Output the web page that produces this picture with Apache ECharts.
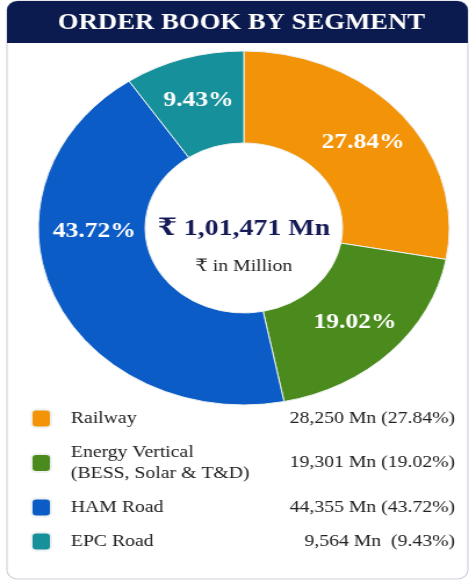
<!DOCTYPE html>
<html>
<head>
<meta charset="utf-8">
<script src="https://cdn.jsdelivr.net/npm/echarts@6/dist/echarts.min.js"></script>
<style>
  html, body { margin: 0; padding: 0; background: #fff; overflow: hidden; }
  /* ảnh gốc bị kéo giãn ngang, nên vẽ hẹp rồi giãn ra */
  #chart { width: 404px; height: 582px; transform: scaleX(1.161); transform-origin: 0 0; }
</style>
</head>
<body>
<div id="chart"></div>
<script>
// Dữ liệu
const categories = ['Railway', 'Energy Vertical\n(BESS, Solar & T&D)', 'HAM Road', 'EPC Road'];
const valuesMn = [28250, 19301, 44355, 9564];
const percents = [27.84, 19.02, 43.72, 9.43];
const totalMn = 101471;
const colors = ['#F39408', '#4B8B1D', '#0B5CC7', '#16909A'];

const serif = "'Liberation Serif', 'DejaVu Serif', serif";
const navy = '#0C1B4F';
const rowH = 21;

// Định dạng số kiểu Ấn Độ (1,01,471)
function fmtIndian(n) {
    const s = String(n);
    if (s.length <= 3) return s;
    const last3 = s.slice(-3);
    const rest = s.slice(0, -3).replace(/\B(?=(\d{2})+(?!\d))/g, ',');
    return rest + ',' + last3;
}

function valueText(i) {
    const pad = percents[i] < 10 ? ' ' : '';
    return fmtIndian(valuesMn[i]) + ' Mn ' + pad + '(' + percents[i].toFixed(2) + '%)';
}

const chart = echarts.init(document.getElementById('chart'));
chart.setOption({
    animation: false,
    color: colors,
    graphic: [
        {
            type: 'rect', z: -10,
            shape: { x: 6, y: 1, width: 397, height: 578, r: 9 },
            style: { fill: '#fff', stroke: '#cdd2dc', lineWidth: 1.2 }
        },
        {
            type: 'rect', z: -5,
            shape: { x: 6, y: 1, width: 397, height: 42, r: [9, 9, 0, 0] },
            style: { fill: navy }
        },
        {
            type: 'text', x: 208, y: 23,
            style: {
                text: 'ORDER BOOK BY SEGMENT', fill: '#fff', font: 'bold 23px ' + serif,
                align: 'center', verticalAlign: 'middle'
            }
        },
        {
            type: 'text', x: 210, y: 229,
            style: {
                text: '₹ ' + fmtIndian(totalMn) + ' Mn', fill: '#161B57', font: 'bold 24px ' + serif,
                align: 'center', verticalAlign: 'middle'
            }
        },
        {
            type: 'text', x: 210, y: 267,
            style: {
                text: '₹ in Million', fill: '#222', font: '17px ' + serif,
                align: 'center', verticalAlign: 'middle'
            }
        }
    ],
    legend: [
        {
            // ô màu + tên nhóm
            orient: 'vertical', left: 26, top: 408, padding: 0,
            itemGap: 13, itemWidth: 17, itemHeight: 18, icon: 'roundRect',
            selectedMode: false,
            data: categories,
            textStyle: {
                fontFamily: serif, fontSize: 17, color: '#222',
                lineHeight: rowH, padding: [0, 0, 0, 12]
            }
        },
        {
            // cột giá trị bên phải
            orient: 'vertical', right: 7, top: 408, padding: 0, align: 'right',
            itemGap: 13, itemWidth: 0, itemHeight: 18, icon: 'none',
            selectedMode: false,
            data: categories.map(c => ({
                name: c,
                textStyle: { lineHeight: c.indexOf('\n') >= 0 ? rowH * 2 : rowH }
            })),
            formatter: name => valueText(categories.indexOf(name)),
            textStyle: { fontFamily: serif, fontSize: 17, color: '#222', lineHeight: rowH }
        }
    ],
    series: [{
        name: 'Order Book',
        type: 'pie',
        center: [210, 228],
        radius: [85, 177],
        startAngle: 90,
        clockwise: true,
        emphasis: { disabled: true },
        itemStyle: { borderColor: '#eef2f0', borderWidth: 1 },
        label: {
            show: true,
            position: 'inside',
            color: '#fff',
            fontFamily: serif,
            fontSize: 22,
            fontWeight: 'bold',
            formatter: p => percents[p.dataIndex].toFixed(2) + '%'
        },
        labelLine: { show: false },
        // nhãn 43.72% nằm ngang tâm ở hình gốc
        labelLayout: p => p.dataIndex === 2 ? { dx: -5, dy: -48 } : {},
        data: categories.map((c, i) => ({ name: c, value: valuesMn[i] }))
    }]
});
</script>
</body>
</html>
